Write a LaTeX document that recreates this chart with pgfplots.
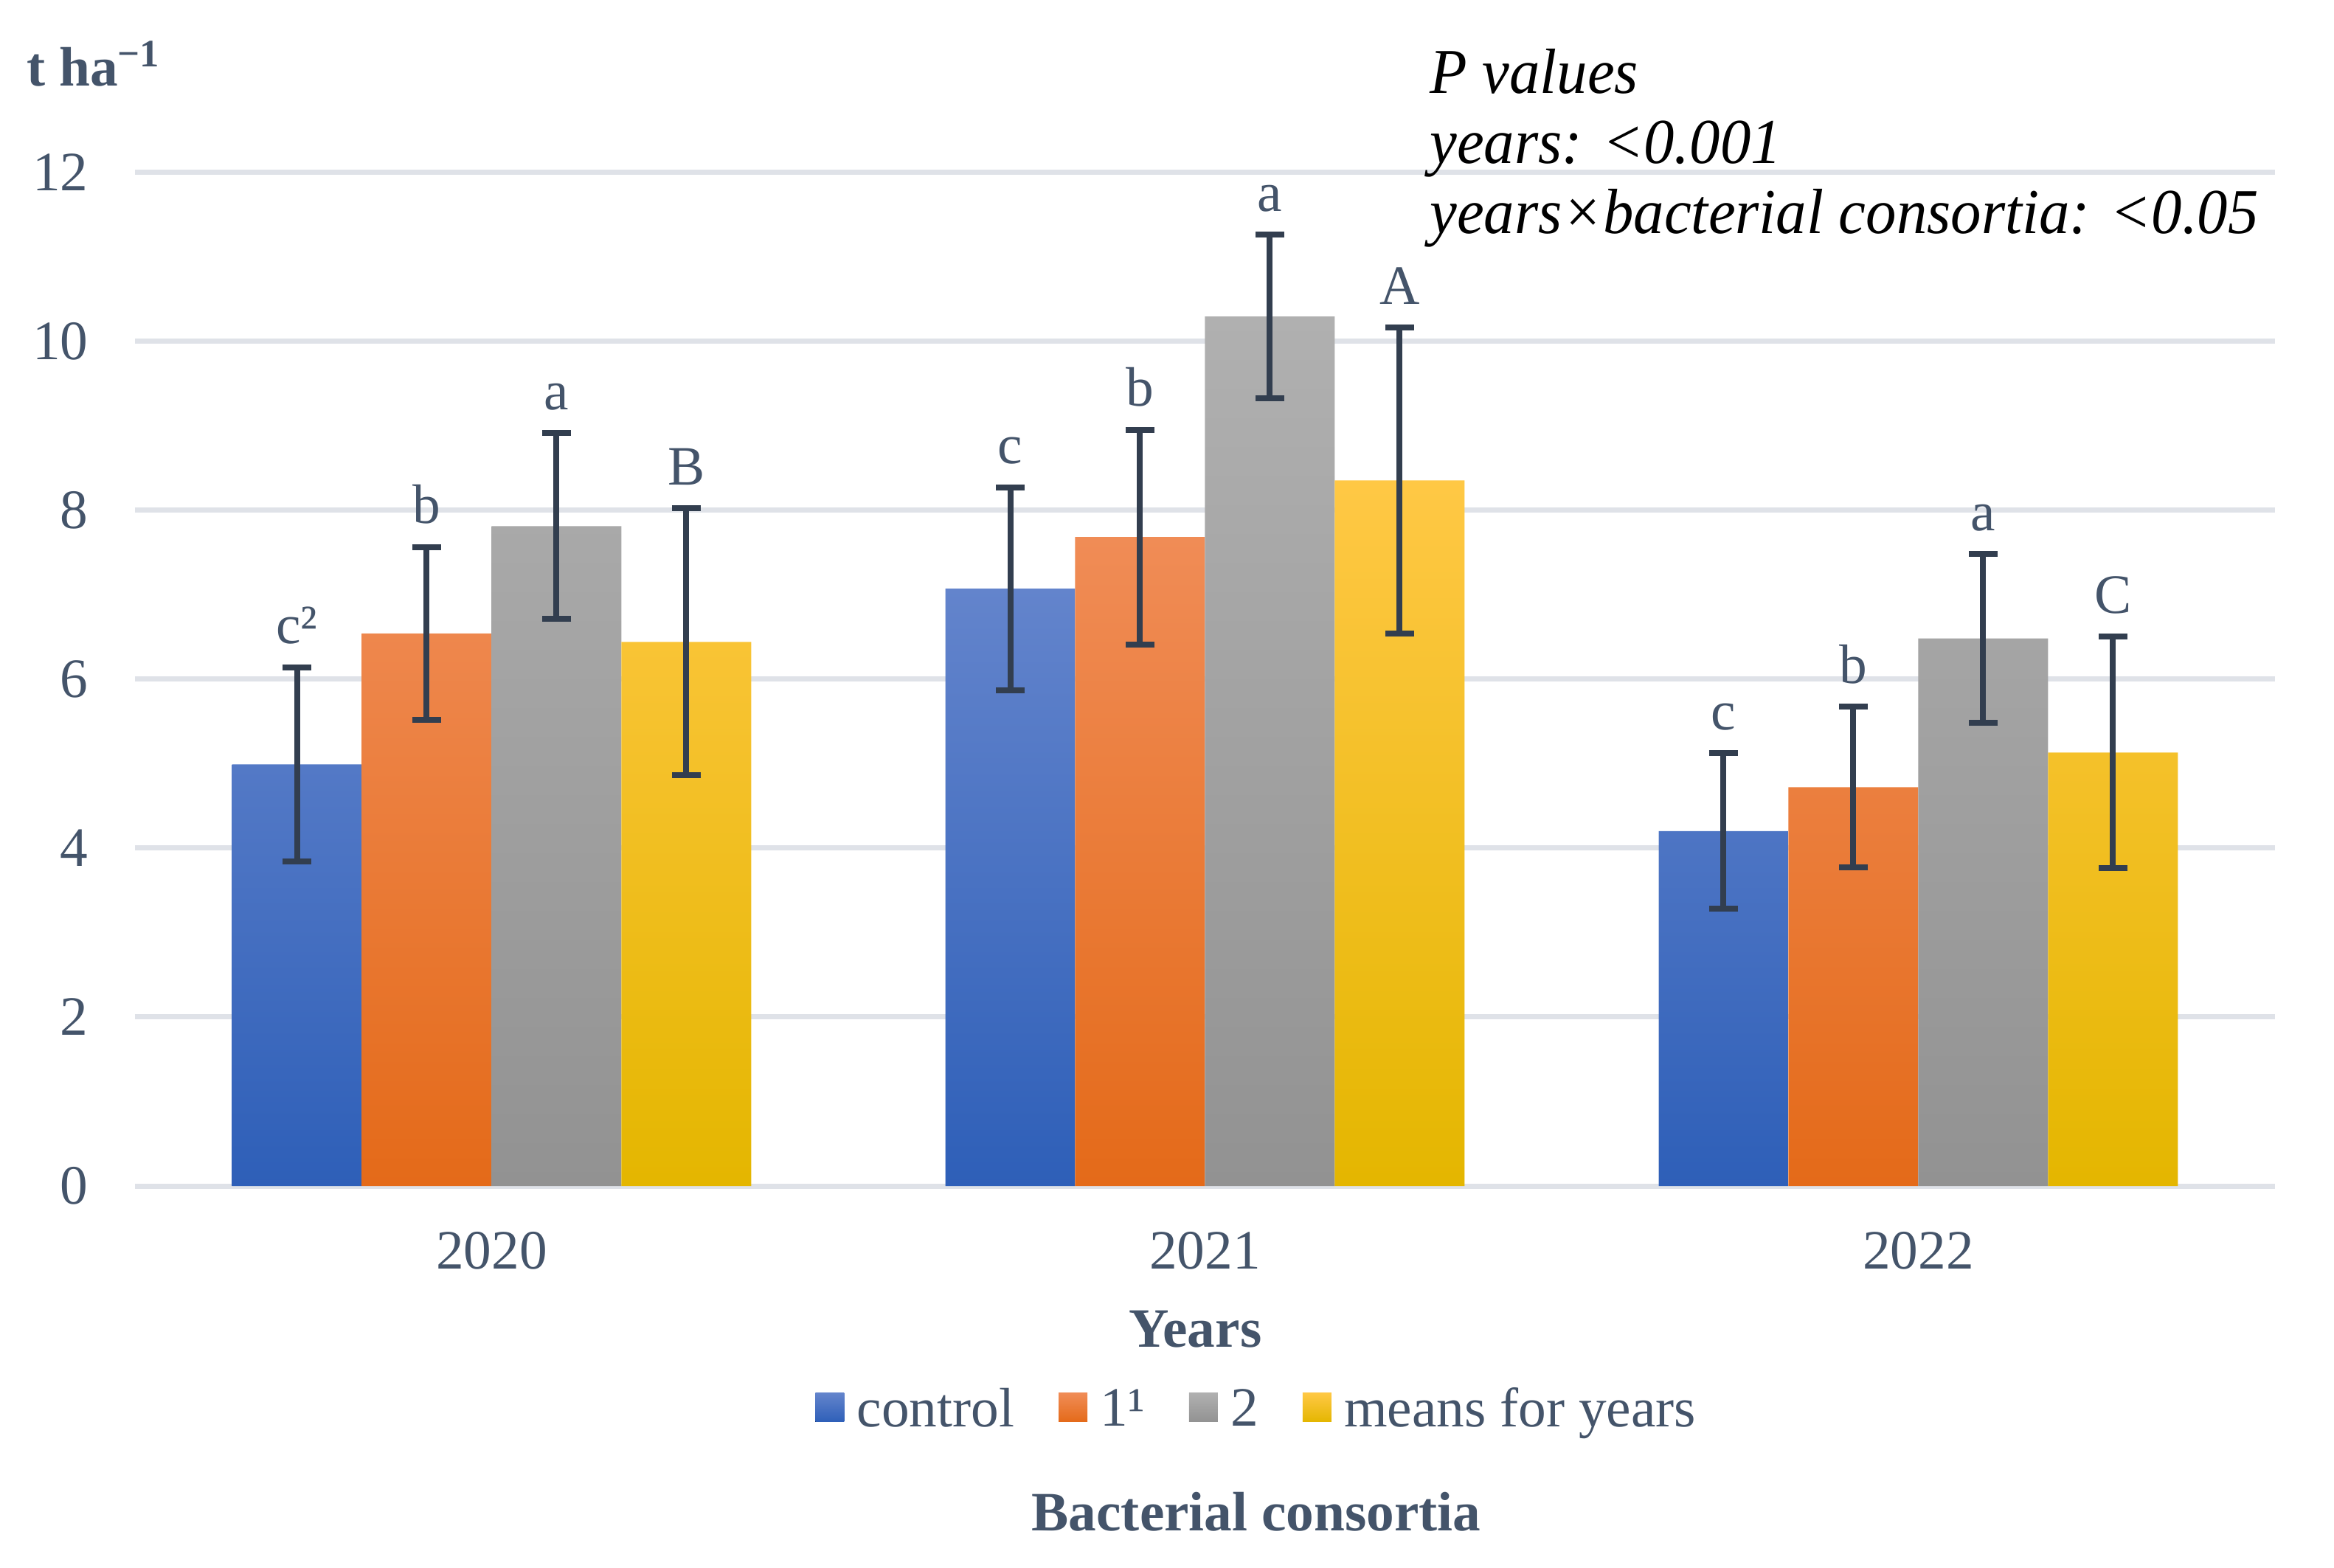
\documentclass[border=0pt]{standalone}
\usepackage{fontspec}
\setmainfont{Liberation Serif}
\newfontfamily\pfont[FakeStretch=0.955]{Liberation Serif}
\usepackage{pgfplots}
\usepackage{pgfplotstable}
\pgfplotsset{compat=1.18}

\definecolor{txt}{HTML}{44546A}
\definecolor{errc}{HTML}{323E4F}
\definecolor{gridc}{HTML}{DFE2E8}
\definecolor{bA}{HTML}{6384CC}\definecolor{bB}{HTML}{4472C4}\definecolor{bC}{HTML}{2E5FB8}
\definecolor{oA}{HTML}{F08C56}\definecolor{oB}{HTML}{F47D2E}\definecolor{oC}{HTML}{E46A19}
\definecolor{gA}{HTML}{B0B0B0}\definecolor{gB}{HTML}{A3A3A3}\definecolor{gC}{HTML}{929292}
\definecolor{yA}{HTML}{FFC845}\definecolor{yB}{HTML}{FEC200}\definecolor{yC}{HTML}{E4B600}

% yields, t/ha, with error and letter
\pgfplotstableread{
x y err lab
0 4.99 1.15 c²
1 7.07 1.20 c
2 4.20 0.92 c
}\tcontrol
\pgfplotstableread{
x y err lab
0 6.54 1.02 b
1 7.68 1.27 b
2 4.72 0.95 b
}\tone
\pgfplotstableread{
x y err lab
0 7.81 1.10 a
1 10.29 0.97 a
2 6.48 1.00 a
}\ttwo
\pgfplotstableread{
x y err lab
0 6.44 1.58 B
1 8.35 1.81 A
2 5.13 1.37 C
}\tmeans

\begin{document}
\begin{tikzpicture}[font=\fontsize{11.3}{13.6}\selectfont]
\useasboundingbox (-27.45pt,-77.7pt) rectangle (447.15pt,241.2pt);
\begin{axis}[
    at={(0pt,0pt)}, anchor=south west,
    scale only axis, width=435.15pt, height=206.2pt,
    xmin=-0.5, xmax=2.5, ymin=0, ymax=12,
    xtick={0,1,2}, xticklabels={2020,2021,2022},
    ytick={0,2,...,12},
    ymajorgrids, major grid style={draw=gridc, line width=1.05pt},
    axis line style={draw=none}, major tick length=0pt,
    tick label style={text=txt, /pgf/number format/assume math mode=true, inner sep=0pt},
    xticklabel style={anchor=center, yshift=-13.1pt},
    yticklabel style={anchor=east, xshift=-9.3pt},
    ybar=0pt, bar width=0.182,
    clip=false,
    error bars/y dir=both, error bars/y explicit,
    error bars/error bar style={line width=1.2pt, draw=errc},
    error bars/error mark options={rotate=90, line width=1.2pt, mark size=2.95pt, draw=errc},
    nodes near coords, point meta=explicit symbolic,
    visualization depends on={\thisrow{err} \as \errv},
    every node near coord/.append style={text=txt, anchor=south, inner sep=0pt, yshift=\errv*17.18pt+4.5pt},
    legend style={at={(0.5237,-0.2221)}, anchor=center, draw=none, fill=none,
        text=txt, nodes={inner sep=0pt},
        /tikz/every odd column/.append style={column sep=2.6pt},
        /tikz/every even column/.append style={column sep=9pt}},
    legend columns=4,
    legend image code/.code={\fill[#1] (0pt,-2.2pt) rectangle (5.85pt,3.65pt);},
]
\addplot[draw=none, top color=bA, middle color=bB, bottom color=bC]
    table[x=x, y=y, y error=err, meta=lab] {\tcontrol};
\addplot[draw=none, top color=oA, middle color=oB, bottom color=oC]
    table[x=x, y=y, y error=err, meta=lab] {\tone};
\addplot[draw=none, top color=gA, middle color=gB, bottom color=gC]
    table[x=x, y=y, y error=err, meta=lab] {\ttwo};
\addplot[draw=none, top color=yA, middle color=yB, bottom color=yC]
    table[x=x, y=y, y error=err, meta=lab] {\tmeans};
\legend{control, 1¹, 2, means for years}
\end{axis}
\node[anchor=base west, inner sep=0pt, text=txt, font=\fontsize{11.3}{13.6}\selectfont\bfseries]
    at (-22.2pt,223.7pt) {t ha\textsuperscript{−1}};
\node[anchor=base west, inner sep=0pt, font=\pfont\fontsize{13}{14.25}\selectfont\itshape]
    at (263.1pt,222.15pt) {P values};
\node[anchor=base west, inner sep=0pt, font=\pfont\fontsize{13}{14.25}\selectfont\itshape]
    at (263.1pt,207.9pt) {years: <0.001};
\node[anchor=base west, inner sep=0pt, font=\pfont\fontsize{13}{14.25}\selectfont\itshape]
    at (263.1pt,193.65pt) {years×bacterial consortia: <0.05};
\node[text=txt, font=\fontsize{11.3}{13.6}\selectfont\bfseries] at (215.6pt,-29.1pt) {Years};
\node[text=txt, font=\fontsize{11.3}{13.6}\selectfont\bfseries] at (228pt,-66.3pt) {Bacterial consortia};
\end{tikzpicture}
\end{document}
